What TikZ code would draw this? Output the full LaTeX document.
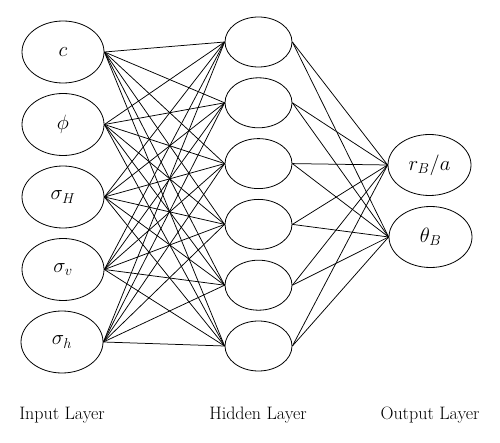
\documentclass[tikz,border=0pt]{standalone}
\usetikzlibrary{shapes.geometric}
\begin{document}
\begin{tikzpicture}[x=1pt, y=-1pt,
  every node/.style={font=\fontsize{18}{21}\selectfont},
  every ellipse node/.style={ellipse, draw, line width=0.8pt, inner sep=0pt, font=\fontsize{20}{24}\selectfont},
  inputnode/.style={minimum width=82pt, minimum height=62pt},
  hiddennode/.style={minimum width=67pt, minimum height=50pt},
  outputnode/.style={minimum width=83pt, minimum height=61pt},
  link/.style={line width=0.75pt}]
\useasboundingbox (0,0) rectangle (500,443);
\node[ellipse, inputnode] (i1) at (63,52) {$c$};
\node[ellipse, inputnode] (i2) at (63,124.5) {$\phi$};
\node[ellipse, inputnode] (i3) at (63,197) {$\sigma_H$};
\node[ellipse, inputnode] (i4) at (63,269.5) {$\sigma_v$};
\node[ellipse, inputnode] (i5) at (62,342) {$\sigma_h$};
\foreach \k in {1,...,6}
  \node[ellipse, hiddennode] (h\k) at (258.5,{42+60.8*(\k-1)}) {};
\node[ellipse, outputnode] (o1) at (429.5,165) {$r_B/a$};
\node[ellipse, outputnode] (o2) at (430.5,237) {$\theta_B$};
\foreach \i in {1,...,5}
  \foreach \h in {1,...,6}
    \draw[link] (i\i.east) -- (h\h.west);
\foreach \h in {1,...,6}
  \foreach \o in {1,2}
    \draw[link] (h\h.east) -- (o\o.west);
\node (li) at (62,415) {Input Layer};
\node (lh) at (258,415) {Hidden Layer};
\node (lo) at (430,415) {Output Layer};
\end{tikzpicture}
\end{document}
